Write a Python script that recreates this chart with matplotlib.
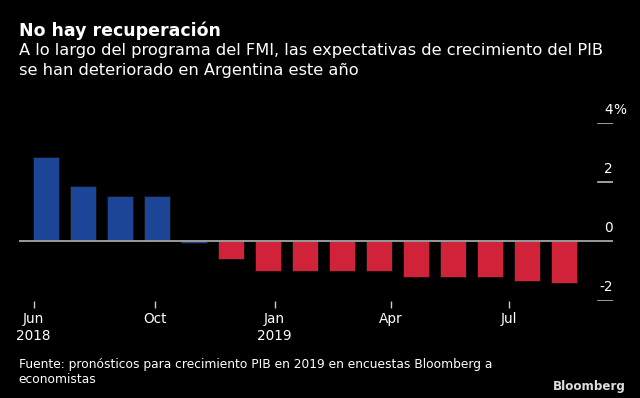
import matplotlib
matplotlib.use("Agg")
import matplotlib.pyplot as plt

# 2019 GDP growth forecasts, Bloomberg survey (%)
forecasts = [2.85, 1.87, 1.53, 1.53, -0.05, -0.60, -0.99, -0.99,
             -0.99, -0.99, -1.19, -1.19, -1.19, -1.33, -1.40]
tick_pos = [-0.33, 2.95, 6.18, 9.32, 12.51]
tick_labels = ["Jun\n2018", "Oct", "Jan\n2019", "Apr", "Jul"]
y_ticks = [4, 2, 0, -2]

blue = "#1c4597"
red = "#d0233a"
grey = "#9a9a9a"

fig = plt.figure(figsize=(6.4, 3.98), dpi=100, facecolor="black")
ax = fig.add_axes([0.029, 0.2445, 0.929, 0.4465], facecolor="black")

x = list(range(len(forecasts)))
colors = [blue if v > -0.1 else red for v in forecasts]
ax.bar(x, forecasts, width=0.695, color=colors, edgecolor="#111111",
       linewidth=0.6, zorder=2)

ax.set_xlim(-0.738, 15.32)
ax.set_ylim(-2, 4)
ax.axhline(0, color=grey, lw=1.4, zorder=3)
for yt in y_ticks:
    if yt != 0:
        ax.axhline(yt, xmin=0.975, xmax=1.0, color="#bbbbbb", lw=1.2)
    ax.text(1.0, yt + 0.45, "%d" % yt, transform=ax.get_yaxis_transform(),
            ha="right", va="center", color="white", fontsize=9.8)
ax.text(1.0, 4.45, "%", transform=ax.get_yaxis_transform(),
        ha="left", va="center", color="white", fontsize=9.8)

for s in ax.spines.values():
    s.set_visible(False)
ax.set_yticks([])
ax.set_xticks(tick_pos)
ax.set_xticklabels(tick_labels, color="white", fontsize=9.8,
                   linespacing=1.25)
ax.tick_params(axis="x", colors="#cccccc", length=5, width=1, pad=3,
               labelcolor="white")

fig.text(0.029, 0.923, "No hay recuperación", color="white",
         fontsize=12.5, fontweight="bold", va="center")
fig.text(0.029, 0.892, "A lo largo del programa del FMI, las expectativas de crecimiento del PIB\nse han deteriorado en Argentina este año",
         color="white", fontsize=11.7, va="top", linespacing=1.45)
fig.text(0.029, 0.066, "Fuente: pronósticos para crecimiento PIB en 2019 en encuestas Bloomberg a\neconomistas",
         color="white", fontsize=8.8, va="center", linespacing=1.2)
fig.text(0.978, 0.03, "Bloomberg", color="#dddddd", fontsize=8.6,
         fontweight="bold", ha="right", va="center")

fig.savefig("out.png", dpi=100, facecolor="black")
